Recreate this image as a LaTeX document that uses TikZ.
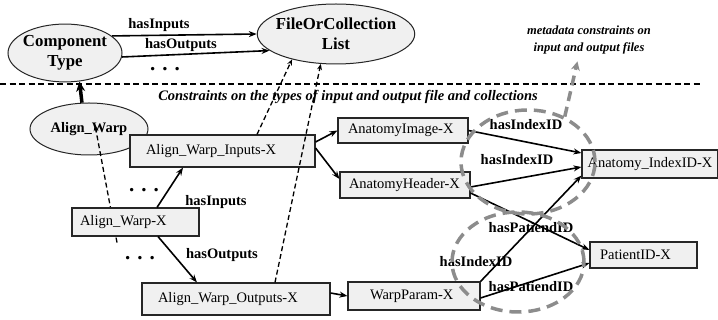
\documentclass[tikz,border=0pt]{standalone}
\usepackage{fontspec}
\setmainfont{Liberation Serif}
\usetikzlibrary{shapes.geometric, arrows.meta, backgrounds}
\exhyphenpenalty=10000
\hyphenpenalty=10000
\newcommand{\boxfont}{\fontsize{14.5}{17}\selectfont}
\newcommand{\lblfont}{\fontsize{14.5}{17}\selectfont\bfseries}
\newcommand{\ovalfont}{\fontsize{16.8}{19.5}\selectfont\bfseries}

\begin{document}
\begin{tikzpicture}[x=1pt, y=-1pt,
    box/.style={draw=black!85, fill=gray!12, line width=1.1pt, inner ysep=0pt, align=left, font=\boxfont},
    oval/.style={ellipse, draw=black!85, fill=gray!12, line width=1pt, align=center, font=\ovalfont},
    lbl/.style={font=\lblfont, inner sep=0pt},
    dots/.style={font=\fontsize{21}{22}\selectfont\bfseries, inner sep=0pt},
    link/.style={-{Stealth[length=8pt,width=6pt]}, line width=1.6pt},
    ref/.style={-{Stealth[length=6pt,width=5pt]}, line width=1.3pt, dash pattern=on 5pt off 3pt},
    group/.style={ellipse, draw=gray!90, line width=3.5pt, dash pattern=on 12pt off 7pt},
    groupline/.style={draw=gray!90, line width=3.5pt, dash pattern=on 10pt off 6pt, -{Stealth[length=9pt,width=9pt]}}
  ]
  \useasboundingbox (0,0) rectangle (718,320);

  % upper part: types
  \node[oval, inner xsep=-1.7pt, minimum height=52pt] (ct) at (65,53) {Component\\Type};
  \node[oval, inner xsep=-4.5pt, minimum height=60pt] (fcl) at (336,34) {FileOrCollection\\List};
  \node[lbl] (inTop) at (159,25) {hasInputs};
  \node[lbl] (outTop) at (181,45) {hasOutputs};
  \node[dots] (dotsTop) at (165,69) {. . .};
  \node[font=\fontsize{12.5}{17.5}\selectfont\bfseries\itshape, align=center, inner sep=0pt] (meta) at (589,40) {metadata constraints on\\input and output files};

  \draw[line width=1.3pt, dash pattern=on 6pt off 3.5pt] (0,84) -- (702,84);
  \node[font=\fontsize{14.5}{17}\selectfont\bfseries\itshape, inner sep=0pt] (cons) at (348,97) {Constraints on the types of input and output file and collections};

  % lower part: instances
  \node[box, text width=153pt, inner xsep=16pt, minimum height=32pt] (awin) at (222.5,151) {Align\_Warp\_Inputs-X};
  \node[box, text width=156pt, inner xsep=16pt, minimum height=32pt] (awout) at (236,299) {Align\_Warp\_Outputs-X};
  \node[box, text width=111pt, inner xsep=8pt, minimum height=28pt] (awx) at (135.5,222) {Align\_Warp-X};
  \node[box, text width=110pt, inner xsep=10pt, minimum height=25pt] (aimg) at (403,130.5) {AnatomyImage-X};
  \node[box, text width=112pt, inner xsep=9pt, minimum height=26pt] (ahdr) at (405,185) {AnatomyHeader-X};
  \node[box, align=center, inner xsep=1pt, minimum width=136pt, minimum height=28pt] (aidx) at (650,164) {Anatomy\_IndexID-X};
  \node[box, text width=87pt, inner xsep=10pt, minimum height=26pt] (pid) at (643.5,255) {PatientID-X};
  \node[box, text width=88pt, inner xsep=22pt, minimum height=28pt] (wp) at (414,296) {WarpParam-X};

  \begin{scope}[on background layer]
    \node[oval, font=\lblfont, minimum width=118pt, minimum height=52pt, inner sep=1pt] (aw) at (89,129) {Align\_Warp};
    \draw[ref] ([xshift=-18.5pt,yshift=-6pt]awx.south) -- ([xshift=6pt,yshift=4pt]aw.center);
  \end{scope}

  \node[lbl] (inMid) at (216,202) {hasInputs};
  \node[lbl] (outMid) at (222,255) {hasOutputs};
  \node[dots] (dotsA) at (144,190) {. . .};
  \node[dots] (dotsB) at (140,258) {. . .};
  \node[lbl] (idxA) at (526,125) {hasIndexID};
  \node[lbl] (idxB) at (517,160) {hasIndexID};
  \node[lbl] (patA) at (531,228) {hasPatiendID};
  \node[lbl] (idxC) at (476,262) {hasIndexID};
  \node[lbl] (patB) at (531,287) {hasPatiendID};

  \draw[link] (ct.20) -- (fcl.west);
  \draw[link] (ct.-4) -- (fcl.194);
  \draw[link, line width=3.5pt, -{Stealth[length=10pt,width=9pt]}] (aw.105) -- (ct.297);
  \draw[ref] ([xshift=34.5pt]awin.north) -- (fcl.210);
  \draw[ref] ([xshift=39pt]awout.north) -- (fcl.243);

  \draw[link] ([xshift=21.5pt]awx.north) -- ([xshift=-39.5pt]awin.south);
  \draw[link] ([xshift=22.5pt]awx.south) -- ([xshift=-39pt]awout.north);
  \draw[link] ([yshift=9pt]awin.east) -- (aimg.west);
  \draw[link] ([yshift=3pt]awin.east) -- ([yshift=6pt]ahdr.west);
  \draw[link] ([yshift=6pt]awout.east) -- (wp.west);
  \draw[link] (aimg.east) -- ([yshift=11pt]aidx.west);
  \draw[link] ([yshift=-2pt]ahdr.east) -- ([yshift=-3pt]aidx.west);
  \draw[link] (wp.north east) -- ([yshift=3pt]aidx.south west);
  \draw[link] ([yshift=-8pt]ahdr.east) -- ([yshift=5pt]pid.west);
  \draw[link] ([yshift=-2pt]wp.east) -- ([yshift=-8pt]pid.west);

  % metadata groups
  \node[group, minimum width=134pt, minimum height=104pt] (idGroup) at (528,162) {};
  \node[group, minimum width=132pt, minimum height=100pt] (patGroup) at (518,262) {};
  \draw[groupline, shorten >=7pt] (idGroup.51) -- ([xshift=-10pt]meta.south);
\end{tikzpicture}
\end{document}
